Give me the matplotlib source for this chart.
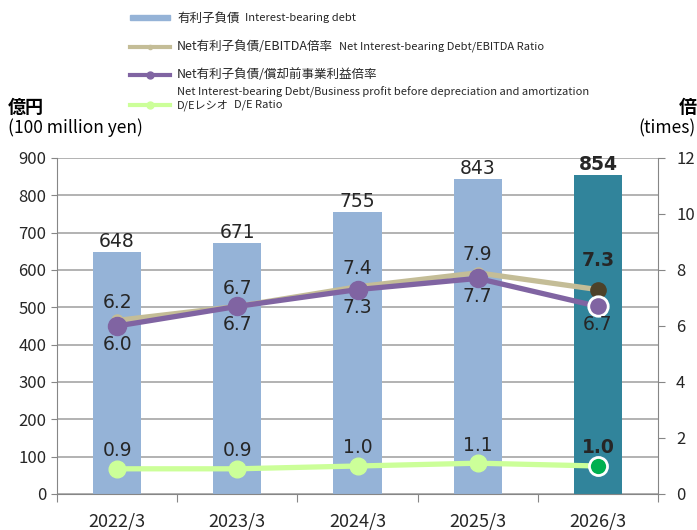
import numpy as np
import matplotlib
matplotlib.use('Agg')
import matplotlib.pyplot as plt
from matplotlib.lines import Line2D
from matplotlib.patches import Rectangle

plt.rcParams['font.family'] = ['Noto Sans CJK JP', 'DejaVu Sans']

#######
# DATA
years = ['2022/3', '2023/3', '2024/3', '2025/3', '2026/3']
debt = [648, 671, 755, 843, 854]                 # 有利子負債 (億円)
ebitdaRatio = [6.2, 6.7, 7.4, 7.9, 7.3]          # Net有利子負債/EBITDA倍率
profitRatio = [6.0, 6.7, 7.3, 7.7, 6.7]          # Net有利子負債/償却前事業利益倍率
deRatio = [0.9, 0.9, 1.0, 1.1, 1.0]              # D/Eレシオ

barBlue = '#95b3d7'
barTeal = '#31849b'
tan = '#c4bd97'
purple = '#8064a2'
green = '#ccff99'
txt = '#262626'

fig = plt.figure(figsize=(6.97, 5.30), dpi=100)
W, H = 697., 530.
ax = fig.add_axes([57 / W, 1 - 494 / H, (658 - 57) / W, (494 - 158) / H])
ax2 = ax.twinx()

x = np.arange(len(years))
colors = [barBlue] * (len(years) - 1) + [barTeal]
ax.bar(x, debt, width=0.4, color=colors, zorder=2)
ax.set_xlim(-0.5, len(years) - 0.5)
ax.set_ylim(0, 900)
ax.set_yticks(np.arange(0, 901, 100))
ax2.set_ylim(0, 12)
ax2.set_yticks(np.arange(0, 13, 2))
ax.grid(axis='y', color='#a6a6a6', lw=1.2, zorder=0)
ax.set_axisbelow(True)

# category separator ticks on the x axis
ax.set_xticks(np.arange(-0.5, len(years), 1.0))
ax.set_xticklabels([])
ax.set_xticks(x, minor=True)
ax.set_xticklabels(years, minor=True, fontsize=13, color=txt)
ax.tick_params(axis='x', which='major', length=6, color='#868686')
ax.tick_params(axis='x', which='minor', length=0, pad=13)
ax.tick_params(axis='y', labelsize=12, length=4, color='#868686', labelcolor=txt)
ax2.tick_params(axis='y', labelsize=12, length=5, color='#868686', pad=8, labelcolor=txt)
for a in (ax, ax2):
	a.spines['top'].set_visible(False)
	for s in ('left', 'right', 'bottom'):
		a.spines[s].set_color('#868686')
	a.patch.set_visible(False)
ax2.spines['left'].set_visible(False)
ax.spines['right'].set_visible(False)
ax2.spines['bottom'].set_visible(False)
ax.set_zorder(1)
ax2.set_zorder(2)

# lines
ax2.plot(x, ebitdaRatio, color=tan, lw=3.8, marker='o', ms=8, zorder=3)
ax2.plot(x[-1], ebitdaRatio[-1], 'o', color='#4d4229', ms=11, zorder=5)
ax2.plot(x, profitRatio, color=purple, lw=3.8, marker='o', ms=13, zorder=4)
ax2.plot(x[-1], profitRatio[-1], 'o', color=purple, mec='white', mew=2, ms=14, zorder=6)
ax2.plot(x, deRatio, color=green, lw=3.8, marker='o', ms=12, zorder=4)
ax2.plot(x[-1], deRatio[-1], 'o', color='#00b050', mec='white', mew=2, ms=13, zorder=6)

# value labels
last = len(years) - 1
for i in x:
	b = 'bold' if i == last else 'normal'
	ax.annotate(str(debt[i]), (i, debt[i]), xytext=(0, 1), textcoords='offset points',
	            ha='center', va='bottom', fontsize=13.5, fontweight=b, family='DejaVu Sans', color=txt)
	ax2.annotate('%.1f' % ebitdaRatio[i], (i, ebitdaRatio[i]), xytext=(0, 21 if i == last else 13),
	             textcoords='offset points', ha='center', va='center', fontsize=13.5, fontweight=b,
	             family='DejaVu Sans', color=txt, zorder=7)
	ax2.annotate('%.1f' % profitRatio[i], (i, profitRatio[i]), xytext=(0, -13), textcoords='offset points',
	             ha='center', va='center', fontsize=13.5, family='DejaVu Sans', color=txt, zorder=7)
	ax2.annotate('%.1f' % deRatio[i], (i, deRatio[i]), xytext=(0, 13), textcoords='offset points',
	             ha='center', va='center', fontsize=13.5, fontweight=b, family='DejaVu Sans',
	             color=txt, zorder=7)

# axis titles
fig.text(8 / W, 1 - 107 / H, '億円', fontsize=13, fontweight='bold', va='center', ha='left')
fig.text(8 / W, 1 - 128 / H, '(100 million yen)', fontsize=12.5, va='center', ha='left')
fig.text(688 / W, 1 - 107 / H, '倍', fontsize=13, fontweight='bold', va='center', ha='center')
fig.text(696 / W, 1 - 128 / H, '(times)', fontsize=12.5, va='center', ha='right')

# legend (manual)
def fx(px):
	return px / W

def fy(py):
	return 1 - py / H

def entry(py, jp, en, jpSize=9, enSize=8):
	t = fig.text(fx(177), fy(py), jp, fontsize=jpSize, va='center', color=txt)
	if en:
		fig.add_artist(plt.Annotation(en, xy=(1, 0.5), xycoords=t, xytext=(4, 0), textcoords='offset points',
		                              va='center', ha='left', fontsize=enSize, color=txt))

fig.add_artist(Rectangle((fx(130), fy(20)), 40 / W, 5 / H, color=barBlue, transform=fig.transFigure))
fig.add_artist(Line2D([fx(130), fx(150), fx(170)], [fy(47)] * 3, color=tan, lw=3, marker='o', ms=3,
                      markevery=[1], transform=fig.transFigure))
fig.add_artist(Line2D([fx(130), fx(150), fx(170)], [fy(75)] * 3, color=purple, lw=3, marker='o', ms=5,
                      markevery=[1], transform=fig.transFigure))
fig.add_artist(Line2D([fx(130), fx(150), fx(170)], [fy(105)] * 3, color=green, lw=3, marker='o', ms=5,
                      markevery=[1], transform=fig.transFigure))
entry(18, '有利子負債', 'Interest-bearing debt')
entry(47, 'Net有利子負債/EBITDA倍率', 'Net Interest-bearing Debt/EBITDA Ratio')
entry(75, 'Net有利子負債/償却前事業利益倍率', '')
fig.text(fx(177), fy(92), 'Net Interest-bearing Debt/Business profit before depreciation and amortization',
         fontsize=8, va='center', color=txt)
entry(105, 'D/Eレシオ', 'D/E Ratio', jpSize=8, enSize=8)

fig.savefig('out.png', dpi=100)
